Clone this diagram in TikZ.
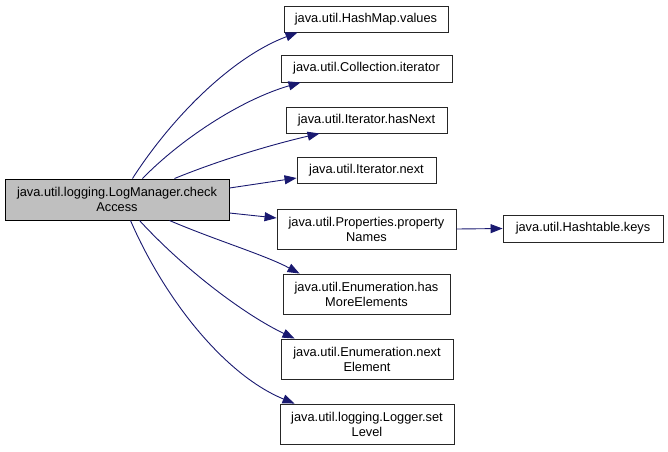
\documentclass[tikz,border=0pt]{standalone}
\usepackage{fontspec}
\setmainfont{Liberation Sans}
\usetikzlibrary{arrows.meta}
\definecolor{edgeblue}{HTML}{191970}
\definecolor{mainfill}{HTML}{BFBFBF}
\begin{document}
\begin{tikzpicture}[x=1pt,y=-1pt,
  box/.style={draw=black!85,line width=0.9pt,fill=white,inner sep=0pt,align=center,
    font=\fontsize{12.8}{15}\selectfont},
  edge/.style={draw=edgeblue,line width=0.9pt,-{Triangle[length=12pt,width=9pt]}}]
\useasboundingbox (0,0) rectangle (668,451);
\node[box,fill=mainfill,line width=1pt,draw=black,minimum width=224pt,minimum height=41pt] (main) at (117,199.5) {java.util.logging.LogManager.check\\Access};
\node[box,minimum width=164pt,minimum height=26pt] (hm) at (366,19) {java.util.HashMap.values};
\node[box,minimum width=171pt,minimum height=27pt] (coll) at (366.5,68.5) {java.util.Collection.iterator};
\node[box,minimum width=161pt,minimum height=26pt] (hn) at (366.5,120) {java.util.Iterator.hasNext};
\node[box,minimum width=139pt,minimum height=26pt] (nx) at (366.5,170.5) {java.util.Iterator.next};
\node[box,minimum width=179pt,minimum height=40pt] (pn) at (366.5,229) {java.util.Properties.property\\Names};
\node[box,minimum width=160pt,minimum height=27pt] (hk) at (583,228.5) {java.util.Hashtable.keys};
\node[box,minimum width=167pt,minimum height=40pt] (hme) at (366.5,294) {java.util.Enumeration.has\\MoreElements};
\node[box,minimum width=172pt,minimum height=40pt] (ne) at (367,359) {java.util.Enumeration.next\\Element};
\node[box,minimum width=174pt,minimum height=40pt] (sl) at (367,424) {java.util.logging.Logger.set\\Level};
\draw[edge] ([xshift=128pt]main.north west) .. controls (170,120) and (230,58) .. ([xshift=14pt]hm.south west);
\draw[edge] ([xshift=138pt]main.north west) .. controls (180,140) and (240,100) .. ([xshift=20pt]coll.south west);
\draw[edge] ([xshift=170pt]main.north west) .. controls (220,160) and (270,145) .. ([xshift=34pt]hn.south west);
\draw[edge] ([yshift=11.5pt]main.east) -- ([yshift=-7.5pt]nx.west);
\draw[edge] ([yshift=-13.5pt]main.east) -- ([yshift=11pt]pn.west);
\draw[edge] (pn.east) -- (hk.west);
\draw[edge] ([xshift=165pt]main.south west) .. controls (215,240) and (265,255) .. ([xshift=17pt]hme.north west);
\draw[edge] ([xshift=135pt]main.south west) .. controls (185,270) and (245,315) .. ([xshift=14pt]ne.north west);
\draw[edge] ([xshift=126pt]main.south west) .. controls (165,300) and (225,375) .. ([xshift=15pt]sl.north west);
\end{tikzpicture}
\end{document}
